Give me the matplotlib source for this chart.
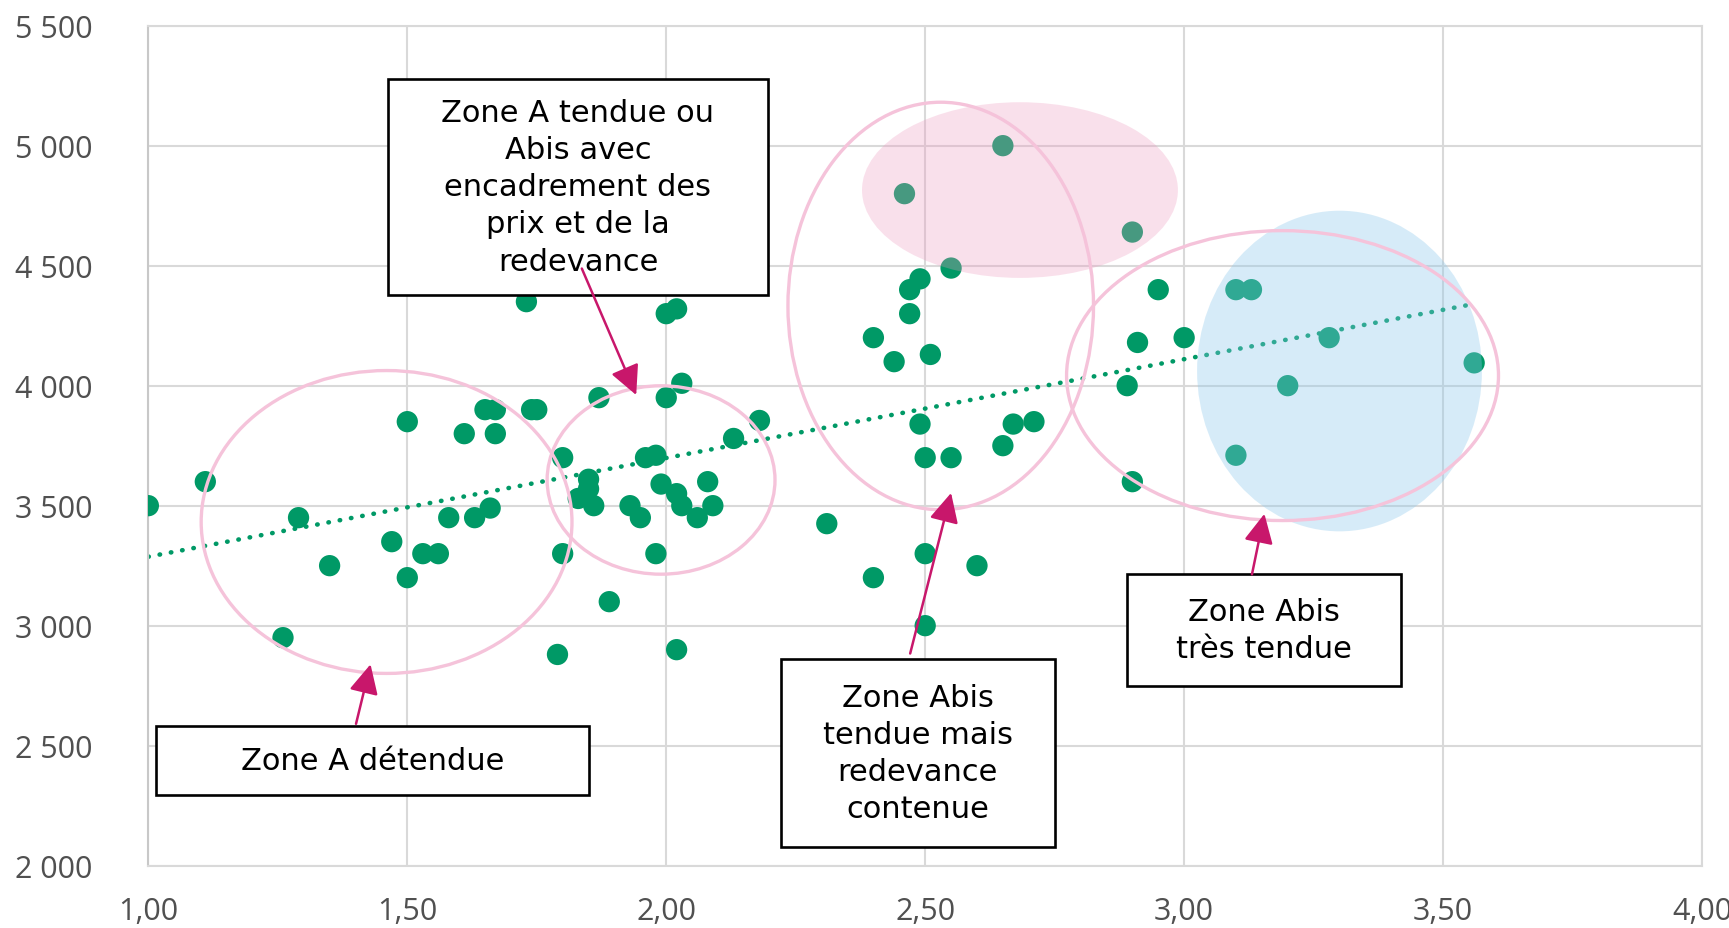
import numpy as np
import matplotlib
matplotlib.use("Agg")
import matplotlib.pyplot as plt
from matplotlib.patches import Ellipse, Rectangle

# ---- data ----
x_vals = [1.00, 1.11, 1.26, 1.29, 1.35, 1.47, 1.50, 1.50, 1.53, 1.56,
          1.58, 1.61, 1.63, 1.66, 1.65, 1.67, 1.67, 1.73, 1.74, 1.75,
          1.79, 1.80, 1.80, 1.85, 1.85, 1.83, 1.86, 1.87, 1.89, 1.93,
          1.95, 1.96, 1.98, 1.99, 1.98, 2.00, 2.00, 2.02, 2.03, 2.02,
          2.03, 2.06, 2.08, 2.09, 2.02, 2.13, 2.18, 2.31, 2.40, 2.40,
          2.44, 2.46, 2.47, 2.49, 2.47, 2.51, 2.49, 2.50, 2.55, 2.50,
          2.50, 2.55, 2.60, 2.65, 2.65, 2.67, 2.71, 2.89, 2.90, 2.90,
          2.91, 2.95, 3.00, 3.10, 3.13, 3.10, 3.20, 3.28, 3.56]
y_vals = [3500, 3600, 2950, 3450, 3250, 3350, 3850, 3200, 3300, 3300,
          3450, 3800, 3450, 3490, 3900, 3900, 3800, 4350, 3900, 3900,
          2880, 3700, 3300, 3610, 3570, 3530, 3500, 3950, 3100, 3500,
          3450, 3700, 3710, 3590, 3300, 3950, 4300, 4320, 4010, 3550,
          3500, 3450, 3600, 3500, 2900, 3780, 3855, 3425, 4200, 3200,
          4100, 4800, 4400, 4445, 4300, 4130, 3840, 3700, 3700, 3300,
          3000, 4490, 3250, 5000, 3750, 3840, 3850, 4000, 3600, 4640,
          4180, 4400, 4200, 4400, 4400, 3710, 4000, 4200, 4095]

x_ticks = [1.00, 1.50, 2.00, 2.50, 3.00, 3.50, 4.00]
y_ticks = [2000, 2500, 3000, 3500, 4000, 4500, 5000, 5500]
x_tick_labels = ["1,00", "1,50", "2,00", "2,50", "3,00", "3,50", "4,00"]
y_tick_labels = ["2 000", "2 500", "3 000", "3 500", "4 000", "4 500", "5 000", "5 500"]

box_texts = ["Zone A tendue ou\nAbis avec\nencadrement des\nprix et de la\nredevance",
             "Zone A détendue",
             "Zone Abis\ntendue mais\nredevance\ncontenue",
             "Zone Abis\ntrès tendue"]

# ---- style ----
GREEN = "#009966"
PINK_LINE = "#f5c3da"
ARROW = "#c8176b"
GRID = "#d9d9d9"

fig = plt.figure(figsize=(17.29, 9.29), dpi=100)
ax = fig.add_axes([0.0858, 0.0671, 0.8986, 0.9042])
ax.set_xlim(1.0, 4.0)
ax.set_ylim(2000, 5500)

ax.set_xticks(x_ticks)
ax.set_xticklabels(x_tick_labels)
ax.set_yticks(y_ticks)
ax.set_yticklabels(y_tick_labels)
ax.tick_params(axis="both", length=0, labelsize=22, labelcolor="#505050")
ax.tick_params(axis="y", pad=40)
ax.tick_params(axis="x", pad=22)
for lab in ax.get_xticklabels() + ax.get_yticklabels():
    lab.set_fontfamily("Open Sans")
ax.grid(True, color=GRID, lw=1.5, zorder=0)
ax.set_axisbelow(True)
for sp in ax.spines.values():
    sp.set_color(GRID)
    sp.set_linewidth(1.5)
ax.spines["left"].set_color("#c8c8c8")

# scatter
ax.scatter(x_vals, y_vals, s=235, color=GREEN, edgecolors="none", zorder=3)

# trendline (least squares)
xa = np.array(x_vals)
ya = np.array(y_vals)
slope, intercept = np.polyfit(xa, ya, 1)
xt = np.array([xa.min(), xa.max()])
ax.plot(xt, slope * xt + intercept, color=GREEN, lw=3.3,
        linestyle=(0, (0.1, 2.4)), dash_capstyle="round", zorder=2)

# filled highlight shapes (above points, translucent)
ax.add_patch(Ellipse((2.683, 4815), 0.61, 732, facecolor="#ee99bf",
                     alpha=0.30, edgecolor="none", zorder=4))
ax.add_patch(Ellipse((3.30, 4061), 0.55, 1336, facecolor="#8cc8ec",
                     alpha=0.35, edgecolor="none", zorder=4))

# outline ellipses
for (cx, cy, w, h) in [(1.46, 3432, 0.716, 1262), (1.99, 3607, 0.44, 785),
                       (2.53, 4332, 0.59, 1698), (3.19, 4042, 0.834, 1208)]:
    ax.add_patch(Ellipse((cx, cy), w, h, facecolor="none",
                         edgecolor=PINK_LINE, lw=2.4, zorder=5))

# text boxes
boxes = [(1.463, 4378, 2.196, 5278), (1.015, 2294, 1.851, 2582),
         (2.221, 2077, 2.750, 2863), (2.889, 2748, 3.418, 3217)]
for (x0, y0, x1, y1), txt in zip(boxes, box_texts):
    ax.add_patch(Rectangle((x0, y0), x1 - x0, y1 - y0, facecolor="white",
                           edgecolor="black", lw=1.9, zorder=6))
    ax.text((x0 + x1) / 2, (y0 + y1) / 2, txt, ha="center", va="center",
            fontsize=22, family="DejaVu Sans", color="black",
            linespacing=1.35, zorder=7)

# arrows
arrows = [((1.837, 4488), (1.942, 3961)), ((1.401, 2591), (1.429, 2839)),
          ((2.471, 2884), (2.550, 3553)), ((3.131, 3214), (3.155, 3466))]
for start, tip in arrows:
    ax.annotate("", xy=tip, xytext=start,
                arrowprops=dict(arrowstyle="-|>,head_length=0.9,head_width=0.45",
                                color=ARROW, lw=1.8, mutation_scale=20,
                                shrinkA=0, shrinkB=0),
                zorder=8)

fig.savefig("out.png", dpi=100)
